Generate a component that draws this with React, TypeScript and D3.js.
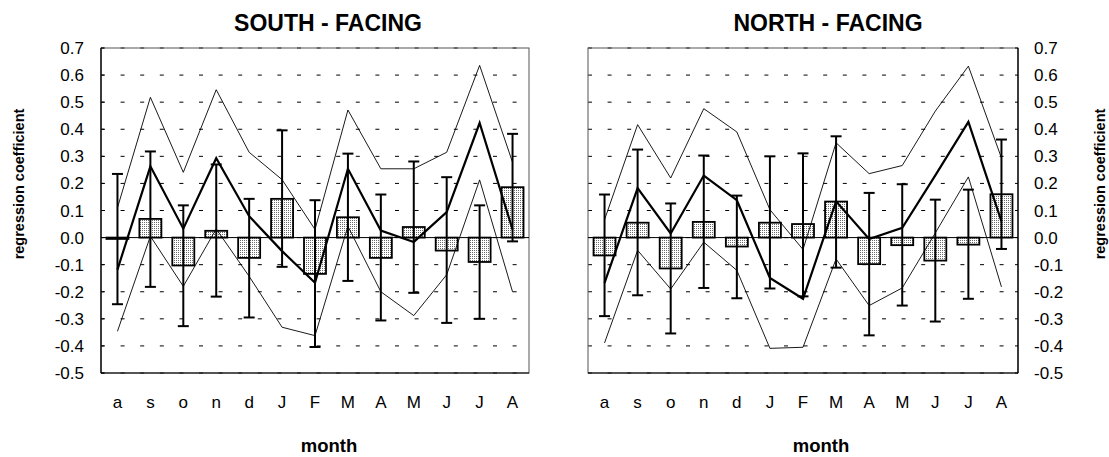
import React from 'react';
import * as d3 from 'd3';

const months = ['a', 's', 'o', 'n', 'd', 'J', 'F', 'M', 'A', 'M', 'J', 'J', 'A'];
const yTicks = [0.7, 0.6, 0.5, 0.4, 0.3, 0.2, 0.1, 0.0, -0.1, -0.2, -0.3, -0.4, -0.5];

// SOUTH - FACING
const southBar = [-0.005, 0.069, -0.103, 0.025, -0.075, 0.143, -0.134, 0.075, -0.075, 0.039, -0.048, -0.09, 0.186];
const southErrHi = [0.235, 0.318, 0.119, 0.27, 0.143, 0.396, 0.138, 0.31, 0.159, 0.281, 0.223, 0.119, 0.383];
const southErrLo = [-0.246, -0.182, -0.327, -0.218, -0.295, -0.108, -0.404, -0.16, -0.306, -0.204, -0.315, -0.3, -0.014];
const southLine = [-0.118, 0.263, 0.033, 0.293, 0.079, -0.05, -0.167, 0.254, 0.026, -0.016, 0.094, 0.423, 0.03];
const southUpper = [0.11, 0.518, 0.241, 0.546, 0.315, 0.214, 0.03, 0.471, 0.254, 0.254, 0.315, 0.636, 0.278];
const southLower = [-0.346, 0.005, -0.18, 0.032, -0.143, -0.331, -0.362, 0.042, -0.2, -0.288, -0.137, 0.213, -0.2];

// NORTH - FACING
const northBar = [-0.066, 0.055, -0.114, 0.058, -0.033, 0.055, 0.05, 0.133, -0.098, -0.028, -0.085, -0.026, 0.16];
const northErrHi = [0.159, 0.325, 0.126, 0.303, 0.155, 0.3, 0.311, 0.374, 0.165, 0.197, 0.14, 0.177, 0.362];
const northErrLo = [-0.29, -0.213, -0.354, -0.186, -0.224, -0.188, -0.217, -0.111, -0.361, -0.251, -0.31, -0.226, -0.042];
const northLine = [-0.167, 0.183, 0.015, 0.229, 0.138, -0.149, -0.226, 0.134, -0.005, 0.036, 0.23, 0.427, 0.06];
const northUpper = [0.066, 0.417, 0.22, 0.476, 0.39, 0.103, -0.044, 0.35, 0.236, 0.266, 0.467, 0.633, 0.294];
const northLower = [-0.389, -0.047, -0.19, -0.017, -0.121, -0.409, -0.405, -0.079, -0.251, -0.186, 0.017, 0.224, -0.182];

const FONT = '"Liberation Sans", Arial, sans-serif';
const TOP = 48;
const BOTTOM = 373;

type PanelProps = {
  x0: number;
  x1: number;
  title: string;
  titleX: number;
  monthX: number;
  axisSide: 'left' | 'right';
  bar: number[];
  errHi: number[];
  errLo: number[];
  line: number[];
  upper: number[];
  lower: number[];
};

function Panel(p: PanelProps) {
  const x = d3.scaleBand<number>().domain(d3.range(months.length)).range([p.x0, p.x1]);
  const y = d3.scaleLinear().domain([-0.5, 0.7]).range([BOTTOM, TOP]);
  const cx = (i: number) => (x(i) as number) + x.bandwidth() / 2;
  const barW = 22;
  const lineGen = d3.line<number>().x((_, i) => cx(i)).y((d) => y(d));
  const axisX = p.axisSide === 'left' ? p.x0 : p.x1;

  return (
    <g>
      {/* gridlines */}
      {yTicks.map((t) => (
        <line key={'g' + t} x1={p.x0} x2={p.x1} y1={y(t)} y2={y(t)} stroke="#000" strokeWidth={1} strokeDasharray="4 15.6" />
      ))}
      {/* frame */}
      <rect x={p.x0} y={TOP} width={p.x1 - p.x0} height={BOTTOM - TOP} fill="none" stroke="#555" strokeWidth={1} />
      <line x1={p.x0} x2={p.x1} y1={BOTTOM} y2={BOTTOM} stroke="#000" strokeWidth={1} />
      <line x1={axisX} x2={axisX} y1={TOP} y2={BOTTOM} stroke="#000" strokeWidth={1.3} />
      {/* ticks */}
      {yTicks.map((t) => (
        <g key={'t' + t}>
          <line
            x1={axisX}
            x2={p.axisSide === 'left' ? axisX + 3 : axisX - 3}
            y1={y(t)}
            y2={y(t)}
            stroke="#000"
          />
          <text
            x={p.axisSide === 'left' ? axisX - 17 : axisX + 16}
            y={y(t) + 6}
            textAnchor={p.axisSide === 'left' ? 'end' : 'start'}
            fontSize={17}
            fontFamily={FONT}
          >
            {t.toFixed(1)}
          </text>
        </g>
      ))}
      {/* zero line */}
      <line x1={p.x0} x2={p.x1} y1={y(0)} y2={y(0)} stroke="#000" strokeWidth={1} />
      {/* bars */}
      {p.bar.map((v, i) => (
        <rect
          key={'b' + i}
          x={cx(i) - barW / 2}
          y={Math.min(y(v), y(0))}
          width={barW}
          height={Math.abs(y(v) - y(0))}
          fill="url(#dots)"
          stroke="#000"
          strokeWidth={1.8}
        />
      ))}
      {/* thin bounds */}
      <path d={lineGen(p.upper) || ''} fill="none" stroke="#000" strokeWidth={0.9} />
      <path d={lineGen(p.lower) || ''} fill="none" stroke="#000" strokeWidth={0.9} />
      {/* error bars */}
      {p.bar.map((_, i) => (
        <g key={'e' + i} stroke="#000" strokeWidth={2}>
          <line x1={cx(i)} x2={cx(i)} y1={y(p.errHi[i])} y2={y(p.errLo[i])} />
          <line x1={cx(i) - 5.5} x2={cx(i) + 5.5} y1={y(p.errHi[i])} y2={y(p.errHi[i])} />
          <line x1={cx(i) - 5.5} x2={cx(i) + 5.5} y1={y(p.errLo[i])} y2={y(p.errLo[i])} />
        </g>
      ))}
      {/* thick line */}
      <path d={lineGen(p.line) || ''} fill="none" stroke="#000" strokeWidth={2.2} strokeLinejoin="miter" />
      {/* month labels */}
      {months.map((m, i) => (
        <text key={'m' + i} x={cx(i)} y={408} textAnchor="middle" fontSize={17} fontFamily={FONT}>
          {m}
        </text>
      ))}
      <text x={p.titleX} y={31} textAnchor="middle" fontSize={23} fontWeight="bold" fontFamily={FONT}>
        {p.title}
      </text>
      <text x={p.monthX} y={452} textAnchor="middle" fontSize={18.5} fontWeight="bold" fontFamily={FONT}>
        month
      </text>
    </g>
  );
}

export default function App() {
  return (
    <svg width={1109} height={457} style={{ position: 'absolute', left: 0, top: 0, background: '#fff' }}>
      <defs>
        <pattern id="dots" width={2} height={2} patternUnits="userSpaceOnUse">
          <rect width={2} height={2} fill="#fff" />
          <rect width={1} height={1} fill="#6a6a6a" />
        </pattern>
      </defs>
      <rect width={1109} height={457} fill="#fff" />
      <Panel
        x0={101}
        x1={529}
        title="SOUTH - FACING"
        titleX={328}
        monthX={329}
        axisSide="left"
        bar={southBar}
        errHi={southErrHi}
        errLo={southErrLo}
        line={southLine}
        upper={southUpper}
        lower={southLower}
      />
      <Panel
        x0={588}
        x1={1018}
        title="NORTH - FACING"
        titleX={828}
        monthX={821}
        axisSide="right"
        bar={northBar}
        errHi={northErrHi}
        errLo={northErrLo}
        line={northLine}
        upper={northUpper}
        lower={northLower}
      />
      <text
        transform="translate(24,184) rotate(-90)"
        textAnchor="middle"
        fontSize={14.5}
        fontWeight="bold"
        fontFamily={FONT}
      >
        regression coefficient
      </text>
      <text
        transform="translate(1105,184) rotate(-90)"
        textAnchor="middle"
        fontSize={14.5}
        fontWeight="bold"
        fontFamily={FONT}
      >
        regression coefficient
      </text>
    </svg>
  );
}
